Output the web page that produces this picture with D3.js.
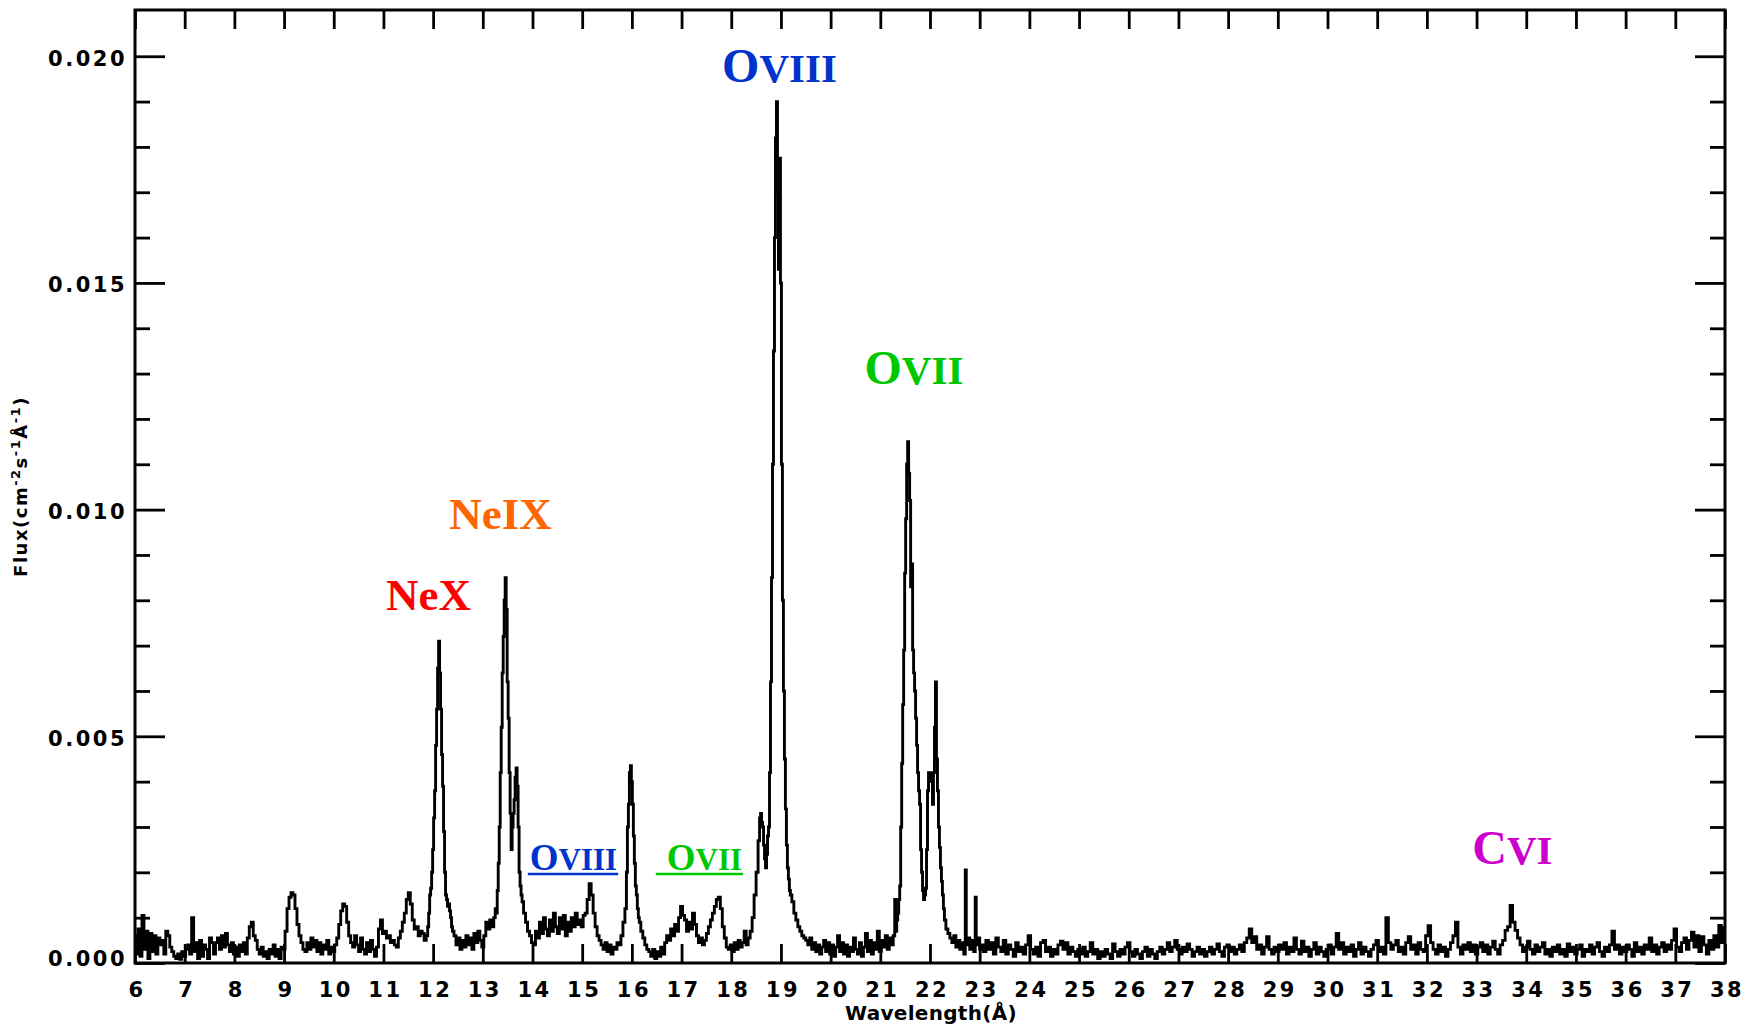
<!DOCTYPE html>
<html>
<head>
<meta charset="utf-8">
<script src="https://cdn.jsdelivr.net/npm/d3@7"></script>
<style>
  body { margin: 0; background: #fff; }
  svg { display: block; }
  .ticklabels text { font-family: "DejaVu Sans", sans-serif; font-weight: bold; font-size: 21px; letter-spacing: 2.5px; fill: #000; }
  .axistitle { font-family: "DejaVu Sans", sans-serif; font-weight: bold; fill: #000; }
  .ion { font-family: "Liberation Serif", "Times New Roman", serif; font-weight: bold; }
</style>
</head>
<body>
<svg id="chart" width="1753" height="1034"></svg>
<script>
//////////////////////////////////////////////////////////////////////////////
// Data: [wavelength (A), flux in 1e-5 cm^-2 s^-1 A^-1]

var fluxUnit = 1e-5;

var specShort = [
  [6.00,60],[6.04,20],[6.08,75],[6.12,15],[6.16,105],[6.20,30],[6.24,70],[6.28,10],[6.32,65],[6.36,25],
  [6.40,60],[6.44,20],[6.48,55],[6.52,40],[6.56,50],[6.60,20],[6.64,70],[6.68,60],[6.72,35],[6.76,25],
  [6.80,15],[6.84,10],[6.88,20],[6.92,8],[6.96,25],[7.00,15],[7.04,30],[7.08,40],[7.12,20],[7.16,100],
  [7.20,25],[7.24,45],[7.28,10],[7.32,50],[7.36,15],[7.40,40],[7.44,30],[7.48,10],[7.52,55],[7.56,45],
  [7.60,20],[7.64,45],[7.68,55],[7.72,30],[7.76,60],[7.80,35],[7.84,65],[7.88,40],[7.92,25],[7.96,45],
  [8.00,20],[8.04,35],[8.08,15],[8.12,40],[8.16,25],[8.20,45],[8.24,20],[8.28,55],[8.32,80],[8.36,90],
  [8.40,60],[8.44,50],[8.48,30],[8.52,20],[8.56,35],[8.60,15],[8.64,25],[8.68,10],[8.72,30],[8.76,20],
  [8.80,40],[8.84,15],[8.88,30],[8.92,10],[8.96,35],[9.00,30],[9.04,70],[9.08,120],[9.12,145],[9.16,155],
  [9.20,150],[9.24,120],[9.28,85],[9.32,60],[9.36,45],[9.40,30],[9.44,25],[9.48,45],[9.52,30],[9.56,55],
  [9.60,35],[9.64,50],[9.68,25],[9.72,45],[9.76,20],[9.80,40],[9.84,30],[9.88,50],[9.92,20],[9.96,35],
  [10.00,25],[10.04,40],[10.08,55],[10.12,85],[10.16,115],[10.20,130],[10.24,125],[10.28,90],[10.32,60],[10.36,45],
  [10.40,35],[10.44,60],[10.48,40],[10.52,25],[10.56,55],[10.60,30],[10.64,20],[10.68,45],[10.72,25],[10.76,50],
  [10.80,30],[10.84,15],[10.88,35],[10.92,75],[10.96,95],[11.00,65],[11.04,70],[11.08,55],[11.12,60],[11.16,45],
  [11.20,50],[11.24,40],[11.28,35],[11.32,55],[11.36,70],[11.40,90],[11.44,110],[11.48,140],[11.52,155],[11.56,130],
  [11.60,95],[11.64,75],[11.68,80],[11.72,60],[11.76,70]
];

var specNeon = [
  [11.80,65],[11.84,50],[11.88,60],[11.90,80],[11.92,110],[11.94,150],[11.96,165],[11.98,200],[12.00,250],[12.02,320],
  [12.04,380],[12.06,480],[12.08,560],[12.10,650],[12.12,710],[12.14,640],[12.16,560],[12.18,460],[12.20,390],[12.22,290],
  [12.24,200],[12.26,150],[12.28,140],[12.30,125],[12.32,130],[12.34,115],[12.36,100],[12.38,80],[12.40,70],[12.44,60],
  [12.48,40],[12.52,55],[12.56,30],[12.60,50],[12.64,35],[12.68,60],[12.72,40],[12.76,55],[12.80,30],[12.84,65],
  [12.88,45],[12.92,70],[12.96,50],[13.00,35],[13.04,60],[13.08,90],[13.12,75],[13.16,95],[13.20,80],[13.24,100],
  [13.26,120],[13.28,110],[13.30,160],[13.32,220],[13.34,300],[13.36,420],[13.38,520],[13.40,640],[13.42,720],[13.44,800],
  [13.46,850],[13.48,780],[13.50,620],[13.52,540],[13.54,420],[13.56,330],[13.58,250],[13.60,300],[13.62,330],[13.64,360],
  [13.66,410],[13.68,430],[13.70,390],[13.72,300],[13.74,200],[13.76,170],[13.78,150],[13.80,135],[13.84,110],[13.88,90],
  [13.92,70],[13.96,60],[14.00,45]
];

var specIron = [
  [14.04,40],[14.08,70],[14.12,55],[14.16,90],[14.20,65],[14.24,100],[14.28,75],[14.32,60],[14.36,95],[14.40,70],
  [14.44,110],[14.48,80],[14.52,65],[14.56,100],[14.60,75],[14.64,105],[14.68,60],[14.72,90],[14.76,70],[14.80,100],
  [14.84,80],[14.88,110],[14.92,85],[14.96,95],[15.00,80],[15.04,105],[15.08,110],[15.12,140],[15.16,175],[15.20,150],
  [15.24,110],[15.28,80],[15.32,60],[15.36,50],[15.40,40],[15.44,30],[15.48,45],[15.52,25],[15.56,40],[15.60,20],
  [15.64,35],[15.68,30],[15.72,45],[15.76,40],[15.80,60],[15.84,90],[15.88,120],[15.90,200],[15.92,300],[15.94,350],
  [15.96,420],[15.98,435],[16.00,400],[16.02,350],[16.04,280],[16.06,220],[16.08,170],[16.10,150],[16.12,120],[16.14,100],
  [16.16,90],[16.20,70],[16.24,55],[16.28,40],[16.32,30],[16.36,25],[16.40,15],[16.44,30],[16.48,10],[16.52,25],
  [16.56,15],[16.60,35],[16.64,20],[16.68,45],[16.72,60],[16.76,50],[16.80,75],[16.84,60],[16.88,85],[16.92,70],
  [16.96,100],[17.00,125],[17.04,105],[17.08,95],[17.12,70],[17.16,90],[17.20,75],[17.24,110],[17.28,85],[17.32,60],
  [17.36,45],[17.40,55],[17.44,40],[17.48,50],[17.52,65],[17.56,80],[17.60,95],[17.64,110],[17.68,125],[17.72,140],
  [17.76,145],[17.80,120],[17.84,80],[17.88,55],[17.92,35],[17.96,30],[18.00,40],[18.04,25],[18.08,45],[18.12,30],
  [18.16,50],[18.20,35],[18.24,45],[18.28,70],[18.32,40],[18.36,55],[18.40,70]
];

var specOxygen = [
  [18.44,100],[18.48,150],[18.52,200],[18.56,270],[18.58,320],[18.60,330],[18.62,310],[18.64,300],[18.66,260],[18.68,230],
  [18.70,210],[18.72,240],[18.74,280],[18.76,300],[18.78,420],[18.80,620],[18.82,850],[18.84,1100],[18.86,1350],[18.88,1600],
  [18.90,1820],[18.92,1900],[18.94,1700],[18.96,1530],[18.98,1775],[19.00,1500],[19.02,1100],[19.04,800],[19.06,600],[19.08,450],
  [19.10,340],[19.12,260],[19.14,210],[19.16,185],[19.18,160],[19.20,150],[19.24,135],[19.28,110],[19.32,95],[19.36,80],
  [19.40,70],[19.44,60],[19.48,55],[19.52,50],[19.56,40],[19.60,55],[19.64,30],[19.68,45],[19.72,25],[19.76,40],
  [19.80,20],[19.84,35],[19.88,50],[19.92,25],[19.96,45],[20.00,20],[20.04,40],[20.08,15],[20.12,35],[20.16,60],
  [20.20,25],[20.24,45],[20.28,20],[20.32,40],[20.36,15],[20.40,35],[20.44,25],[20.48,55],[20.52,30],[20.56,20],
  [20.60,45],[20.64,15],[20.68,35],[20.72,65],[20.76,25],[20.80,50],[20.84,20],[20.88,45],[20.92,30],[20.96,70],
  [21.00,25],[21.04,50],[21.08,35],[21.12,60],[21.16,30],[21.20,55],[21.24,40],[21.28,60],[21.30,140],[21.32,70],
  [21.34,95],[21.36,110],[21.38,140],[21.40,170],[21.42,300],[21.44,440],[21.46,570],[21.48,690],[21.50,860],[21.52,980],
  [21.54,1100],[21.56,1150],[21.58,1080],[21.60,1020],[21.62,830],[21.64,880],[21.66,690],[21.68,640],[21.70,600],[21.72,540],
  [21.74,480],[21.76,420],[21.78,380],[21.80,350],[21.82,250],[21.84,200],[21.86,160],[21.88,140],[21.90,150],[21.92,165],
  [21.94,250],[21.96,380],[21.98,420],[22.00,410],[22.02,420],[22.04,400],[22.06,350],[22.08,420],[22.10,520],[22.12,620],
  [22.14,450],[22.16,380],[22.18,300],[22.20,255],[22.22,210],[22.24,180],[22.26,150],[22.28,120],[22.30,95],[22.34,75],
  [22.38,65],[22.42,55],[22.46,45],[22.50,60],[22.54,35],[22.58,50],[22.62,30],[22.66,45],[22.70,20],[22.72,205],
  [22.74,40],[22.78,55],[22.82,30],[22.86,50],[22.90,25],[22.92,145],[22.94,40],[22.98,55],[23.02,30]
];

var specCarbon = [
  [23.05,40],[23.10,25],[23.15,50],[23.20,30],[23.25,45],[23.30,20],[23.35,55],[23.40,35],[23.45,25],[23.50,50],
  [23.55,20],[23.60,40],[23.65,30],[23.70,15],[23.75,45],[23.80,25],[23.85,35],[23.90,20],[23.95,40],[24.00,60],
  [24.05,30],[24.10,20],[24.15,35],[24.20,15],[24.25,45],[24.30,50],[24.35,25],[24.40,35],[24.45,15],[24.50,30],
  [24.55,20],[24.60,40],[24.65,48],[24.70,30],[24.75,45],[24.80,20],[24.85,35],[24.90,25],[24.95,15],[25.00,30],
  [25.05,20],[25.10,35],[25.15,15],[25.20,25],[25.25,45],[25.30,20],[25.35,30],[25.40,10],[25.45,25],[25.50,15],
  [25.55,30],[25.60,20],[25.65,10],[25.70,42],[25.75,25],[25.80,15],[25.85,30],[25.90,20],[25.95,35],[26.00,45],
  [26.05,25],[26.10,15],[26.15,30],[26.20,20],[26.25,10],[26.30,25],[26.35,35],[26.40,15],[26.45,30],[26.50,20],
  [26.55,10],[26.60,25],[26.65,35],[26.70,20],[26.75,30],[26.80,45],[26.85,25],[26.90,35],[26.95,50],[27.00,30],
  [27.05,20],[27.10,35],[27.15,25],[27.20,42],[27.25,30],[27.30,15],[27.35,25],[27.40,35],[27.45,20],[27.50,30],
  [27.55,15],[27.60,25],[27.65,35],[27.70,20],[27.75,30],[27.80,42],[27.85,25],[27.90,15],[27.95,35],[28.00,40],
  [28.05,25],[28.10,35],[28.15,20],[28.20,30],[28.25,40],[28.30,25],[28.35,45],[28.40,55],[28.45,75],[28.50,45],
  [28.55,58],[28.60,30],[28.65,40],[28.70,20],[28.75,35],[28.80,58],[28.85,30],[28.90,20],[28.95,35],[29.00,25],
  [29.05,40],[29.10,30],[29.15,45],[29.20,20],[29.25,35],[29.30,25],[29.35,55],[29.40,30],[29.45,20],[29.50,48],
  [29.55,25],[29.60,35],[29.65,15],[29.70,30],[29.75,45],[29.80,20],[29.85,35],[29.90,25],[29.95,15],[30.00,30],
  [30.05,40],[30.10,20],[30.15,35],[30.20,65],[30.25,30],[30.30,45],[30.35,20],[30.40,35],[30.45,25],[30.50,40],
  [30.55,15],[30.60,30],[30.65,45],[30.70,20],[30.75,35],[30.80,25],[30.85,15],[30.90,30],[30.95,40],[31.00,50],
  [31.05,25],[31.10,35],[31.15,20],[31.20,100],[31.25,45],[31.30,30],[31.35,40],[31.40,50],[31.45,25],[31.50,35],
  [31.55,20],[31.60,45],[31.65,58],[31.70,30],[31.75,40],[31.80,20],[31.85,45],[31.90,30],[31.95,25],[32.00,60],
  [32.05,82],[32.10,45],[32.15,30],[32.20,20],[32.25,40],[32.30,25],[32.35,35],[32.40,15],[32.45,30],[32.50,45],
  [32.55,60],[32.60,90],[32.65,35],[32.70,20],[32.75,40],[32.80,30],[32.85,45],[32.90,25],[32.95,40],[33.00,20],
  [33.05,35],[33.10,45],[33.15,25],[33.20,40],[33.25,20],[33.30,35],[33.35,48],[33.40,30],[33.45,20],[33.50,40],
  [33.55,50],[33.60,72],[33.65,80],[33.70,127],[33.75,90],[33.80,72],[33.85,55],[33.90,40],[33.95,25],[34.00,35],
  [34.05,48],[34.10,30],[34.15,20],[34.20,40],[34.25,25],[34.30,35],[34.35,45],[34.40,20],[34.45,30],[34.50,15],
  [34.55,35],[34.60,25],[34.65,40],[34.70,20],[34.75,30],[34.80,15],[34.85,42],[34.90,25],[34.95,35],[35.00,20],
  [35.05,30],[35.10,40],[35.15,15],[35.20,30],[35.25,25],[35.30,40],[35.35,20],[35.40,35],[35.45,45],[35.50,25],
  [35.55,15],[35.60,35],[35.65,25],[35.70,40],[35.75,70],[35.80,30],[35.85,40],[35.90,20],[35.95,35],[36.00,25],
  [36.05,40],[36.10,30],[36.15,15],[36.20,45],[36.25,25],[36.30,35],[36.35,20],[36.40,40],[36.45,30],[36.50,55],
  [36.55,25],[36.60,40],[36.65,20],[36.70,35],[36.75,45],[36.80,25],[36.85,40],[36.90,30],[36.95,50],[37.00,75],
  [37.05,35],[37.10,25],[37.15,45],[37.20,55],[37.25,30],[37.30,50],[37.35,68],[37.40,35],[37.45,60],[37.50,25],
  [37.55,58],[37.60,40],[37.65,20],[37.70,50],[37.75,30],[37.80,60],[37.85,35],[37.90,83],[37.95,45],[38.00,78]
];

// axis ticks
var xTickValues = [6,7,8,9,10,11,12,13,14,15,16,17,18,19,20,21,22,23,24,25,26,27,28,29,30,31,32,33,34,35,36,37,38];
var yTickValues = [0, 0.005, 0.010, 0.015, 0.020];
var yMinorValues = [0.001,0.002,0.003,0.004,0.006,0.007,0.008,0.009,0.011,0.012,0.013,0.014,0.016,0.017,0.018,0.019];

// line identifications: element, ionisation stage, label centre (A), label baseline (flux)
var ionElements = ["Ne", "Ne", "O", "O", "O", "O", "C"];
var ionStages   = ["X", "IX", "VIII", "VII", "VIII", "VII", "VI"];
var ionLambda   = [11.906, 13.356, 18.970, 21.677, 14.825, 17.461, 33.722];
var ionFlux     = [0.00779, 0.00957, 0.01943, 0.01276, 0.00205, 0.00205, 0.00218];
var ionUnderline = [false, false, false, false, true, true, false];
var ionSmall    = [false, false, false, false, true, true, false];

var ionColor = { "Ne X": "#ff0000", "Ne IX": "#ff6600", "O VIII": "#0033cc", "O VII": "#00c800", "C VI": "#cc00cc" };

//////////////////////////////////////////////////////////////////////////////
// Scales and frame

var svg = d3.select("#chart");

var plotLeft = 135, plotRight = 1725, plotTop = 10, plotBottom = 963;

var xScale = d3.scaleLinear().domain([6, 38]).range([plotLeft, plotRight]);
var yScale = d3.scaleLinear().domain([0, 0.02102]).range([plotBottom, plotTop]);

function noDomain(g) { g.select(".domain").remove(); }

function tickStyle(g)
{
    g.selectAll("line").attr("stroke", "#000").attr("stroke-width", 2.8);
}

// left side: inward ticks
svg.append("g").attr("transform", "translate(" + plotLeft + ",0)")
    .call(d3.axisRight(yScale).tickValues(yMinorValues).tickSize(15).tickFormat(""))
    .call(noDomain).call(tickStyle);
svg.append("g").attr("transform", "translate(" + plotLeft + ",0)")
    .call(d3.axisRight(yScale).tickValues(yTickValues).tickSize(30).tickFormat(""))
    .call(noDomain).call(tickStyle);

// right side
svg.append("g").attr("transform", "translate(" + plotRight + ",0)")
    .call(d3.axisLeft(yScale).tickValues(yMinorValues).tickSize(15).tickFormat(""))
    .call(noDomain).call(tickStyle);
svg.append("g").attr("transform", "translate(" + plotRight + ",0)")
    .call(d3.axisLeft(yScale).tickValues(yTickValues).tickSize(30).tickFormat(""))
    .call(noDomain).call(tickStyle);

// bottom and top
svg.append("g").attr("transform", "translate(0," + plotBottom + ")")
    .call(d3.axisTop(xScale).tickValues(xTickValues).tickSize(19).tickFormat(""))
    .call(noDomain).call(tickStyle);
svg.append("g").attr("transform", "translate(0," + plotTop + ")")
    .call(d3.axisBottom(xScale).tickValues(xTickValues).tickSize(19).tickFormat(""))
    .call(noDomain).call(tickStyle);

// tick labels
svg.append("g").attr("class", "ticklabels").attr("transform", "translate(" + (plotLeft + 2) + ",0)")
    .call(d3.axisLeft(yScale).tickValues(yTickValues).tickSize(0).tickPadding(10).tickFormat(d3.format(".3f")))
    .call(noDomain)
    .call(function(g) {
        g.selectAll("text")
            .attr("dy", function(d) { return d === 0 ? "0.12em" : "0.42em"; })
            .attr("font-family", null).attr("font-size", null);
    });

svg.append("g").attr("class", "ticklabels").attr("transform", "translate(1.5," + plotBottom + ")")
    .call(d3.axisBottom(xScale).tickValues(xTickValues).tickSize(0).tickPadding(19).tickFormat(d3.format("d")))
    .call(noDomain)
    .call(function(g) { g.selectAll("text").attr("font-family", null).attr("font-size", null); });

// axis titles
svg.append("text").attr("class", "axistitle")
    .attr("x", (plotLeft + plotRight) / 2 + 1).attr("y", 1020)
    .attr("text-anchor", "middle")
    .style("font-size", "20px").style("letter-spacing", "0.3px")
    .text("Wavelength(\u00c5)");

var yTitle = svg.append("text").attr("class", "axistitle")
    .attr("transform", "translate(27," + ((plotTop + plotBottom) / 2) + ") rotate(-90)")
    .attr("text-anchor", "middle")
    .style("font-size", "18px").style("letter-spacing", "1.5px");
yTitle.append("tspan").text("Flux(cm");
yTitle.append("tspan").attr("dy", -7).style("font-size", "13px").text("-2");
yTitle.append("tspan").attr("dy", 7).text("s");
yTitle.append("tspan").attr("dy", -7).style("font-size", "13px").text("-1");
yTitle.append("tspan").attr("dy", 7).text("\u00c5");
yTitle.append("tspan").attr("dy", -7).style("font-size", "13px").text("-1");
yTitle.append("tspan").attr("dy", 7).text(")");

//////////////////////////////////////////////////////////////////////////////
// Spectrum

var spectrum = [].concat(specShort, specNeon, specIron, specOxygen, specCarbon);

var line = d3.line()
    .x(function(d) { return xScale(d[0]); })
    .y(function(d) { return yScale(d[1] * fluxUnit); })
    .curve(d3.curveStep);

svg.append("path")
    .datum(spectrum)
    .attr("fill", "none")
    .attr("stroke", "#000")
    .attr("stroke-width", 2.9)
    .attr("d", line);

// frame
svg.append("rect")
    .attr("x", plotLeft).attr("y", plotTop)
    .attr("width", plotRight - plotLeft).attr("height", plotBottom - plotTop)
    .attr("fill", "none").attr("stroke", "#000").attr("stroke-width", 3);

//////////////////////////////////////////////////////////////////////////////
// Ion labels

ionElements.forEach(function(el, i) {
    var stage = ionStages[i];
    var color = ionColor[el + " " + stage];
    var size = ionSmall[i] ? 37 : (el === "Ne" ? 45 : 48);
    var stageSize = el === "Ne" ? size : Math.round(size * 0.85);

    var t = svg.append("text").attr("class", "ion")
        .attr("x", xScale(ionLambda[i]))
        .attr("y", yScale(ionFlux[i]))
        .attr("text-anchor", "middle")
        .attr("fill", color)
        .style("font-size", size + "px");
    t.append("tspan").text(el);
    t.append("tspan").style("font-size", stageSize + "px").text(stage);

    if (ionUnderline[i]) {
        var bb = t.node().getBBox();
        var lead = (stage === "VII") ? 11 : 2;
        svg.append("line")
            .attr("x1", bb.x - lead).attr("x2", bb.x + bb.width + 1)
            .attr("y1", yScale(ionFlux[i]) + 4).attr("y2", yScale(ionFlux[i]) + 4)
            .attr("stroke", color).attr("stroke-width", 2.5);
    }
});
</script>
</body>
</html>
